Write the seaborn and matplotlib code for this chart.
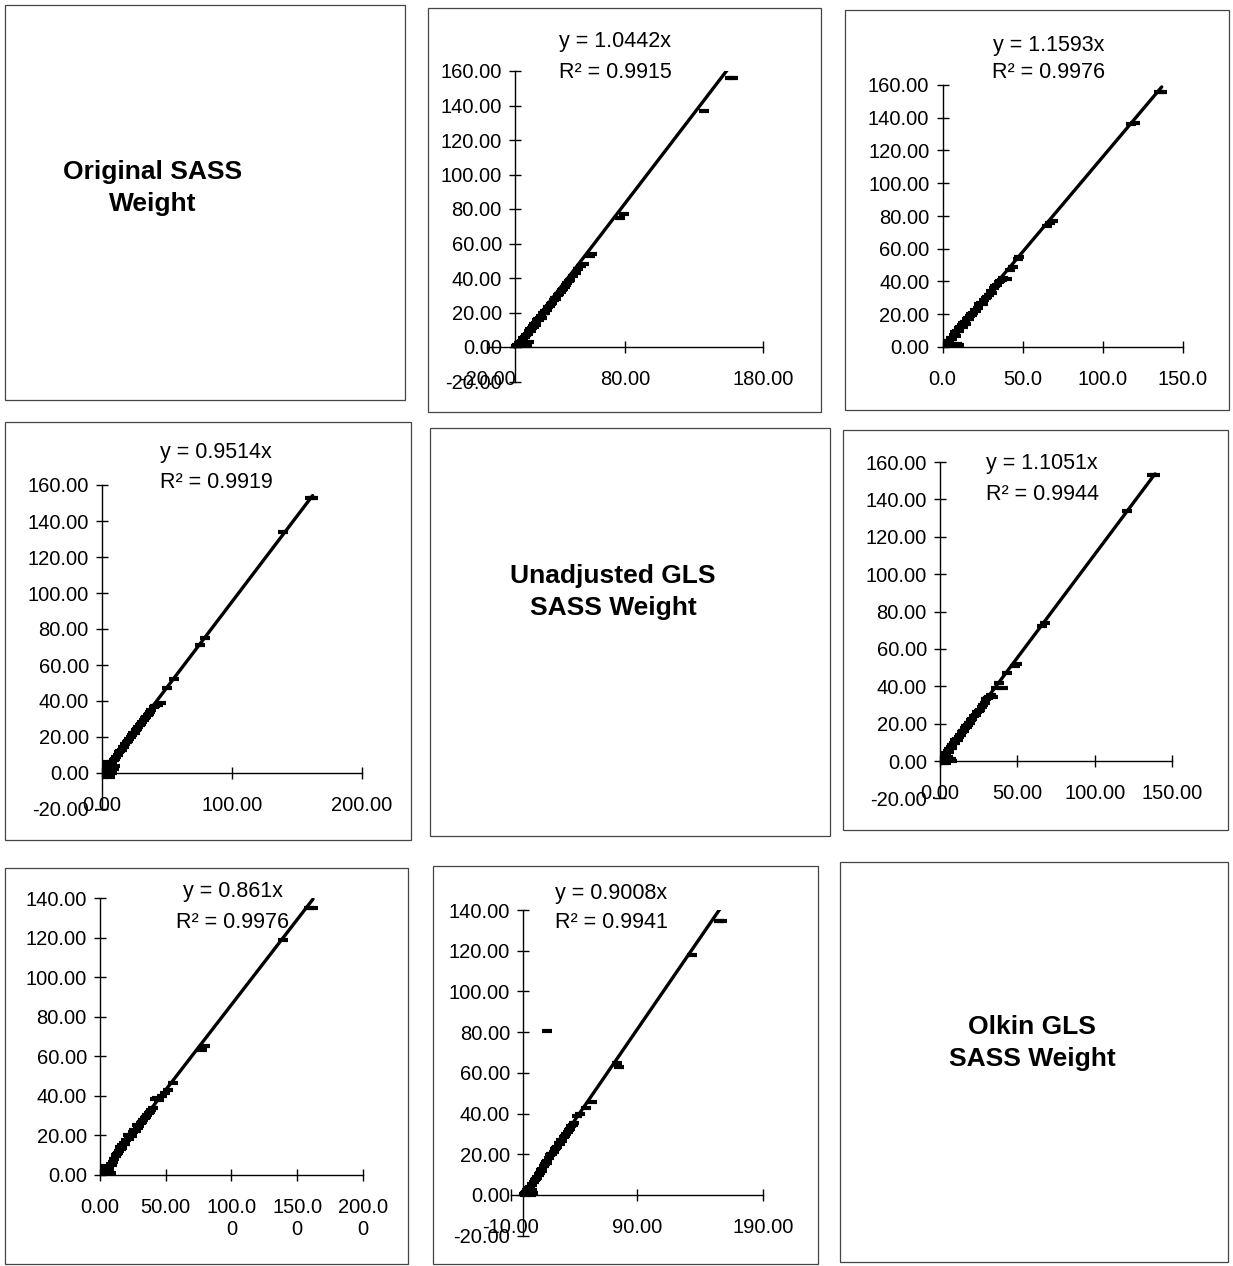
import matplotlib
matplotlib.use("Agg")
import matplotlib.pyplot as plt
import matplotlib.patches as patches
import seaborn as sns
import pandas as pd

sns.set_theme(context="notebook", style="white")
plt.rcParams['font.family'] = ['Liberation Sans', 'DejaVu Sans']
plt.rcParams.update({'text.color': 'black', 'xtick.color': 'black',
                     'ytick.color': 'black', 'axes.labelcolor': 'black'})

W, H = 1233, 1266

# diagonal titles
titles = ["Original SASS\nWeight", "Unadjusted GLS\nSASS Weight", "Olkin GLS\nSASS Weight"]

# off-diagonal panels (row, col): row = y variable, col = x variable
panels = [(0, 1), (0, 2), (1, 0), (1, 2), (2, 0), (2, 1)]
slopes = [1.0442, 1.1593, 0.9514, 1.1051, 0.861, 0.9008]
eq_labels = ["y = 1.0442x", "y = 1.1593x", "y = 0.9514x", "y = 1.1051x", "y = 0.861x", "y = 0.9008x"]
r2_labels = ["R² = 0.9915", "R² = 0.9976", "R² = 0.9919", "R² = 0.9944", "R² = 0.9976", "R² = 0.9941"]

# points
p01_x = [0.5, 1.5, 2.5, 3, 4, 5, 6, 7, 8, 9, 10, 6, 8, 10, 11, 12, 13, 14, 15, 16, 17, 18, 19, 20, 21, 22,
         24, 25, 26, 28, 29, 31, 32, 34, 36, 38, 40, 42, 48, 50, 54, 56, 76, 79, 137, 156, 158,
         3.5, 5.5, 7.5, 9.5, 11.5, 13.5, 15.5, 17.5, 19.5, 21.5, 23, 27, 30, 33, 35, 37, 39, 44, 46]
p01_y = [0.3, 1, 0.5, 2.5, 1, 3.5, 1.5, 0.5, 2, 1, 3, 5.5, 7, 9, 10.5, 11, 12, 13.5, 14, 15.5, 16, 17, 18, 19.5, 20, 21,
         23, 24, 25, 27, 28.5, 30, 31, 33, 35, 37, 39, 41, 47, 48, 53, 54, 75, 77, 137, 156, 156,
         3, 4.5, 6, 7.5, 9.5, 11.5, 13, 15.5, 17, 19.5, 21.5, 25.5, 28, 32, 33.5, 36, 38.5, 43, 45]

p02_x = [0.5, 1.5, 2.5, 3.5, 5, 6, 7, 8, 9, 10, 5, 7, 8, 9, 10, 11, 12, 13, 14, 15, 16, 17, 18, 19, 20, 22,
         23, 24, 26, 27, 29, 30, 32, 34, 36, 38, 40, 42, 44, 47, 48, 65, 67, 69, 118, 120, 135, 137,
         4, 6, 8.5, 10.5, 12.5, 14.5, 16.5, 18.5, 21, 25, 28, 31, 33, 35, 37]
p02_y = [0.5, 1.5, 1, 3.5, 2, 0.5, 1.5, 0.5, 2, 1, 5.5, 7.5, 9, 10, 11.5, 12, 13.5, 14.5, 15, 17, 17.5, 19, 20, 21, 22.5, 24,
         26, 27, 29, 30, 32, 34, 36, 38, 40, 42, 41.5, 47, 49, 54, 55, 74, 76, 77, 136, 137, 156, 156,
         3.5, 5, 7, 10, 12.5, 14, 17, 19.5, 22, 26.5, 30.5, 33, 37, 39.5, 41]

p10_x = [0.3, 0.5, 1, 1, 2, 2, 3, 3, 4, 5, 6, 7, 8, 9, 10, 8, 10, 12, 13, 15, 16, 18, 20, 22, 24, 26, 28,
         30, 32, 34, 36, 38, 41, 43, 45, 50, 55, 75.5, 79, 139, 160, 162,
         0.5, 1.5, 4, 6, 9, 11, 14, 17, 19, 21, 23, 25, 27, 29, 31, 33, 35, 37, 40]
p10_y = [5, 3, 1, -2, 4, 0, 6, -1, 2, 0.5, -2, 1, 0, 2, 4, 6, 8, 10, 11.5, 13, 14.5, 16, 18, 20, 22, 24, 25.5,
         27.5, 29.5, 31, 33, 35, 37, 38, 39, 47, 52, 71, 75, 134, 153, 153,
         1, 2.5, 4.5, 5, 7, 9, 12, 14.5, 17, 19, 21, 22.5, 24.5, 26.5, 28.5, 30.5, 32, 34, 36.5]

p12_x = [0.5, 1, 1.5, 2, 3, 4, 5, 6, 7, 8, 4, 5, 6, 7, 8, 9, 10, 11, 12, 13, 14, 15, 16, 17, 18, 19, 20,
         22, 24, 25, 27, 28, 30, 32, 34, 41, 43, 48.5, 50, 66, 68, 121, 137, 139,
         2.5, 3.5, 5.5, 7.5, 9.5, 11.5, 13.5, 15.5, 17.5, 19.5, 21, 23, 26, 29, 31, 33, 36, 38]
p12_y = [0.5, -1, 2, 3.5, 1, -1, 2, 0.5, 1, 0, 4.5, 5.5, 6.5, 7.5, 8.5, 9.5, 11, 12, 13, 14, 15.5, 16, 17.5, 18.5, 19.5, 20.5, 22,
         24, 26, 27, 29, 30, 33, 34, 34, 39, 47, 51, 52, 72, 74, 134, 153, 153,
         2, 3, 5, 7, 9.5, 11.5, 14, 16, 18, 20.5, 22.5, 24.5, 27.5, 31, 33.5, 35.5, 39, 41.5]

p20_x = [0.3, 0.5, 1, 1.5, 2, 3, 3, 4, 5, 6, 7, 8, 9, 10, 11, 12, 13, 14, 15, 16, 17, 18, 19, 20, 21.5, 22,
         24, 25, 27, 28, 30, 32, 34, 36, 38, 40.6, 42, 43, 49.5, 52, 55.8, 77.5, 80, 139, 159, 162,
         2.5, 4.5, 6.5, 8.5, 10.5, 12.5, 14.5, 16.5, 18.5, 23, 26, 29, 31, 33, 35, 37, 39, 45, 47]
p20_y = [3, 1, 4, 0, 2.5, 4.5, 0.5, 1.5, 3, 0.5, 2, 1, 5, 6.5, 8, 9.5, 10.5, 11, 14, 13, 15, 16, 15.5, 17.5, 20, 18,
         19.5, 21.5, 22, 25.5, 25, 27, 29, 30.5, 32, 34, 38.5, 39, 41.5, 43, 46.5, 63, 65, 119, 135, 135,
         1.5, 2.5, 4, 5.5, 8, 10, 12, 13.5, 15.5, 19.5, 22.5, 24, 26.5, 28, 29.5, 31.5, 33, 38, 40]

p21_x = [0.5, 1, 2, 3, 4, 5, 6, 7, 8, 3, 5, 7, 9, 10, 11, 12, 13, 14, 15, 16, 17, 18, 19, 20, 21, 22,
         24, 25, 26, 28, 30, 32, 34, 36, 38, 40, 42.5, 45, 50, 54.5, 74.6, 76, 134, 19, 155, 158,
         1.5, 2.5, 4.5, 6.5, 8.5, 10.5, 12.5, 14.5, 16.5, 18.5, 23, 27, 29, 31, 33, 35, 37, 39]
p21_y = [0.5, 0, 1.5, 0.5, 2, 1, 0, 2.5, 1, 2.5, 4, 5.5, 7.5, 8, 9, 10.5, 11, 12.5, 13, 14, 15, 16, 16.5, 18, 19.5, 20,
         21, 22.5, 23, 25.5, 27, 28.5, 30, 32, 34, 35.5, 39, 40, 42.5, 45.7, 65, 63, 118, 80.5, 134.6, 134.6,
         1, 2, 3.5, 5, 6.5, 8.5, 10, 12, 14, 15.5, 20, 23.5, 25, 26.5, 29, 31, 32.5, 34.5]

xs = [p01_x, p02_x, p10_x, p12_x, p20_x, p21_x]
ys = [p01_y, p02_y, p10_y, p12_y, p20_y, p21_y]

# axis ticks and labels per panel
xticks = [[-20, 80, 180], [0, 50, 100, 150], [0, 100, 200], [0, 50, 100, 150], [0, 50, 100, 150, 200], [-10, 90, 190]]
xticklabels = [["-20.00", "80.00", "180.00"],
               ["0.0", "50.0", "100.0", "150.0"],
               ["0.00", "100.00", "200.00"],
               ["0.00", "50.00", "100.00", "150.00"],
               ["0.00", "50.00", "100.0\n0", "150.0\n0", "200.0\n0"],
               ["-10.00", "90.00", "190.00"]]
yticks = [list(range(-20, 161, 20)), list(range(0, 161, 20)), list(range(-20, 161, 20)),
          list(range(-20, 161, 20)), list(range(0, 141, 20)), list(range(-20, 141, 20))]

# layout in pixels: axes box (left, top, right, bottom), limits, label centres
layout = [
    dict(box=(487.4, 71, 763.4, 381.5), xlim=(-20, 180), ylim=(-20, 160), eq=(615, 42, 72)),
    dict(box=(942.5, 85, 1182.5, 347), xlim=(0, 150), ylim=(0, 160), eq=(1049, 45, 73)),
    dict(box=(102, 485, 362, 809), xlim=(0, 200), ylim=(-20, 160), eq=(216, 452, 483)),
    dict(box=(940, 462, 1172, 798.4), xlim=(0, 150), ylim=(-20, 160), eq=(1042, 463, 494)),
    dict(box=(100, 898, 363, 1175), xlim=(0, 200), ylim=(0, 140), eq=(233, 892, 923)),
    dict(box=(510.8, 910, 762.8, 1235.7), xlim=(-10, 190), ylim=(-20, 140), eq=(611, 893, 922)),
]
frames = [(5, 5, 405, 400), (428, 8, 821, 412), (845, 10, 1229, 410),
          (5, 422, 411, 840), (430, 428, 830, 836), (843, 430, 1228, 830),
          (5, 868, 408, 1264), (433, 866, 818, 1264), (840, 862, 1228, 1262)]
title_pos = [(153, 188), (613, 592), (1032, 1043)]


def fx(px):
    return px / W


def fy(py):
    return 1 - py / H


fig = plt.figure(figsize=(W / 100, H / 100), dpi=100)

for (l, t, r, b) in frames:
    fig.patches.append(patches.Rectangle((fx(l), fy(b)), fx(r) - fx(l), fy(t) - fy(b),
                                         transform=fig.transFigure, fill=False,
                                         edgecolor='#444444', linewidth=0.9))

for title, (cx, cy) in zip(titles, title_pos):
    fig.text(fx(cx), fy(cy), title, ha='center', va='center', fontsize=19,
             fontweight='bold', linespacing=1.45, color='black')

for i, (rc, lay) in enumerate(zip(panels, layout)):
    l, t, r, b = lay['box']
    ax = fig.add_axes([fx(l), fy(b), fx(r) - fx(l), fy(t) - fy(b)])
    ax.patch.set_alpha(0)
    df = pd.DataFrame({'x': xs[i], 'y': ys[i]})
    xmax = df['x'].max()
    sns.lineplot(x=[0, xmax], y=[0, slopes[i] * xmax], color='black', linewidth=2.4, ax=ax)
    sns.scatterplot(data=df, x='x', y='y', marker='_', s=60, color='black',
                    edgecolor='black', linewidth=3, ax=ax)
    ax.set_xlim(*lay['xlim'])
    ax.set_ylim(*lay['ylim'])
    ax.set_xlabel('')
    ax.set_ylabel('')
    for side in ['top', 'right']:
        ax.spines[side].set_visible(False)
    for side in ['left', 'bottom']:
        ax.spines[side].set_position(('data', 0))
        ax.spines[side].set_color('black')
        ax.spines[side].set_linewidth(1.0)
    ax.set_xticks(xticks[i])
    ax.set_xticklabels(xticklabels[i])
    ax.set_yticks(yticks[i])
    ax.set_yticklabels(['%.2f' % v for v in yticks[i]])
    ax.tick_params(axis='both', direction='inout', length=9, width=1, colors='black',
                   labelsize=14.5, left=True, bottom=True)
    ax.tick_params(axis='x', pad=12)
    ax.tick_params(axis='y', pad=5)

    ex, ey1, ey2 = lay['eq']
    fig.text(fx(ex), fy(ey1), eq_labels[i], ha='center', va='center', fontsize=15.5)
    fig.text(fx(ex), fy(ey2), r2_labels[i], ha='center', va='center', fontsize=15.5)

fig.savefig('out.png', dpi=100, facecolor='white')
